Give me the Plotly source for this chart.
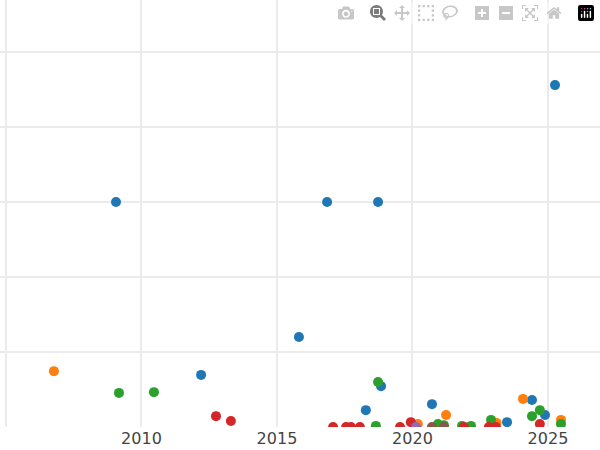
import plotly.graph_objects as go

blue_x = [2009.06, 2016.85, 2018.73, 2025.26, 2015.81, 2012.2, 2018.84, 2018.28, 2020.72, 2024.41, 2024.89, 2023.49]
blue_y = [60, 60, 60, 91.2, 24, 13.9, 10.9, 4.5, 6.1, 7.2, 3.2, 1.3]
orange_x = [2006.77, 2021.24, 2024.08, 2025.48, 2020.2, 2023.1]
orange_y = [14.9, 3.2, 7.5, 1.9, 0.8, 1.1]
green_x = [2009.17, 2010.46, 2018.73, 2018.65, 2020.94, 2021.16, 2022.16, 2021.83, 2022.9, 2024.7, 2024.41, 2025.48]
green_y = [9.1, 9.3, 12, 0.3, 0.8, 0.5, 0.3, 0.3, 1.9, 4.5, 2.9, 0.8]
red_x = [2012.75, 2013.3, 2017.07, 2017.55, 2017.73, 2018.06, 2019.54, 2019.94, 2021.9, 2022.82, 2023.08, 2024.7]
red_y = [2.9, 1.6, 0, 0, 0, 0, 0, 1.3, 0, 0, 0, 0.8]
purple_x = [2020.13]
purple_y = [0]
brown_x = [2020.72, 2021.16]
brown_y = [0, 0]

series = [
    ('A', blue_x, blue_y, '#1f77b4'),
    ('B', orange_x, orange_y, '#ff7f0e'),
    ('C', green_x, green_y, '#2ca02c'),
    ('D', red_x, red_y, '#d62728'),
    ('E', purple_x, purple_y, '#9467bd'),
    ('F', brown_x, brown_y, '#8c564b'),
]

fig = go.Figure()
for name, xs, ys, col in series:
    fig.add_trace(go.Scatter(x=xs, y=ys, mode='markers', name=name,
                             marker=dict(color=col, size=10)))

fig.update_layout(
    width=600, height=450,
    margin=dict(l=0, r=0, t=0, b=23),
    plot_bgcolor='white', paper_bgcolor='white',
    showlegend=False,
    font=dict(family='DejaVu Sans', color='#444', size=16),
)
fig.update_xaxes(range=[2004.78, 2026.92], dtick=5, tick0=2005,
                 showgrid=True, gridcolor='#ebebeb', gridwidth=2, zeroline=False)
fig.update_yaxes(range=[0, 113.9], dtick=20, showticklabels=False,
                 showgrid=True, gridcolor='#ebebeb', gridwidth=2, zeroline=False)

# drop the page's default body margin so the figure sits at the corner
fig.write_html("out.html", post_script="document.body.style.margin='0';")
